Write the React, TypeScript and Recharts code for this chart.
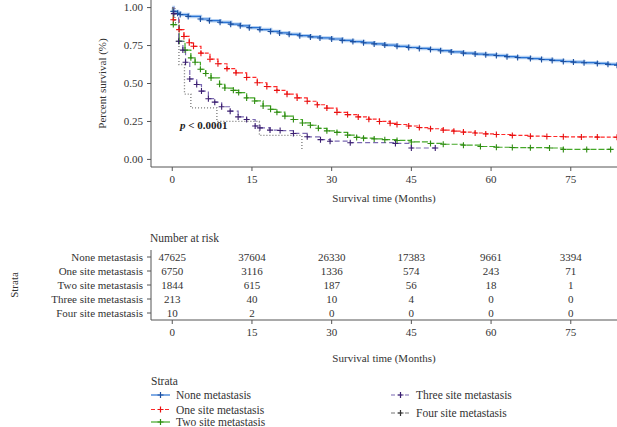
import { Line, LineChart, ReferenceDot, Scatter, ScatterChart, XAxis, YAxis } from 'recharts';

const FONT = '"Liberation Serif", "Times New Roman", serif';
const TEXT = '#333';
const AXIS = '#555';

const TIME_TICKS = [0, 15, 30, 45, 60, 75];
const SURV_TICKS = [0, 0.25, 0.5, 0.75, 1];

// Kaplan-Meier curves, [months, survival]
const noneCurve: [number, number][] = [
  [0, 1.0], [0.2, 0.975], [1, 0.962], [1.5, 0.954], [3, 0.942], [5.3, 0.925], [7, 0.914],
  [9, 0.903], [11, 0.891], [12.8, 0.88], [14.5, 0.868], [16.5, 0.855], [18.5, 0.843],
  [20.2, 0.833], [22, 0.824], [24, 0.815], [26, 0.807], [27.8, 0.8], [30, 0.793], [32, 0.784],
  [34, 0.776], [36, 0.768], [38, 0.761], [40, 0.753], [42.3, 0.745], [44.5, 0.737],
  [46.5, 0.731], [48.6, 0.724], [50.5, 0.716], [52.5, 0.708], [54.8, 0.7], [57, 0.694],
  [59, 0.689], [61, 0.684], [63, 0.677], [65, 0.671], [67.4, 0.664], [69.5, 0.658],
  [71.5, 0.652], [73.6, 0.645], [75.5, 0.641], [77.5, 0.637], [80, 0.632], [82, 0.626], [83.7, 0.62],
];

const oneCurve: [number, number][] = [
  [0, 1.0], [0.2, 0.92], [1.3, 0.855], [2.2, 0.81], [3.2, 0.768], [4, 0.745], [5.4, 0.7],
  [7.1, 0.66], [8.6, 0.63], [10.3, 0.598], [12, 0.57], [14, 0.54], [16, 0.505], [17.8, 0.48],
  [19.7, 0.455], [21.6, 0.43], [23.5, 0.405], [25.4, 0.383], [27.3, 0.36], [29.1, 0.338],
  [31, 0.31], [33, 0.295], [35, 0.28], [37, 0.265], [39, 0.25], [41, 0.238], [42.3, 0.23],
  [44.5, 0.22], [46.5, 0.21], [48.6, 0.202], [51, 0.193], [53, 0.186], [54.8, 0.18],
  [57, 0.174], [59, 0.168], [61, 0.164], [64, 0.158], [67.4, 0.153], [70.5, 0.151],
  [73.6, 0.149], [77, 0.148], [80, 0.147], [83.7, 0.146],
];

const twoCurve: [number, number][] = [
  [0, 1.0], [0.2, 0.888], [1.3, 0.778], [2.4, 0.72], [3.5, 0.669], [4.3, 0.64], [5.3, 0.594],
  [6.3, 0.566], [7.3, 0.537], [8.9, 0.495], [9.9, 0.47], [11.5, 0.455], [12.5, 0.44],
  [14, 0.405], [15.5, 0.385], [17.1, 0.352], [18.5, 0.33], [19.7, 0.311], [21.2, 0.285],
  [22.8, 0.263], [24.5, 0.24], [26, 0.225], [27.5, 0.205], [29.1, 0.188], [31, 0.178],
  [33, 0.16], [34.7, 0.145], [36, 0.14], [38, 0.135], [40, 0.13], [42.3, 0.125], [45, 0.115],
  [48.6, 0.105], [51, 0.1], [54.8, 0.094], [58, 0.085], [61, 0.08], [64, 0.078], [67.4, 0.077],
  [71, 0.075], [73.6, 0.066], [78, 0.066], [82.5, 0.066],
];

const threeCurve: [number, number][] = [
  [0, 1.0], [0.3, 0.96], [1.2, 0.778], [2, 0.72], [2.5, 0.64], [3.3, 0.53], [4.6, 0.493],
  [5.5, 0.45], [6.8, 0.4], [8, 0.377], [9.3, 0.347], [10.9, 0.318], [12.4, 0.28], [14, 0.263],
  [15.6, 0.22], [16.5, 0.208], [18.4, 0.193], [20.3, 0.19], [22.8, 0.171], [25.4, 0.149],
  [27.9, 0.13], [29.7, 0.12], [33.5, 0.11], [42, 0.105], [45, 0.075], [49.5, 0.075],
];

const fourCurve: [number, number][] = [
  [0, 1.0], [0.5, 0.9], [1.26, 0.625], [2.3, 0.43], [3.5, 0.34], [8.4, 0.25], [16.4, 0.158], [24.4, 0.055],
];

// number at risk table
const STRATA = [
  'None metastasis',
  'One site metastasis',
  'Two site metastasis',
  'Three site metastasis',
  'Four site metastasis',
];
const RISK_TIMES = [0, 15, 30, 45, 60, 75];
const riskNone = [47625, 37604, 26330, 17383, 9661, 3394];
const riskOne = [6750, 3116, 1336, 574, 243, 71];
const riskTwo = [1844, 615, 187, 56, 18, 1];
const riskThree = [213, 40, 10, 4, 0, 0];
const riskFour = [10, 2, 0, 0, 0, 0];

const toRows = (curve: [number, number][]) => curve.map(([t, s]) => ({ t, s }));

const riskRows = [riskNone, riskOne, riskTwo, riskThree, riskFour].flatMap((row, i) =>
  row.map((n, j) => ({ t: RISK_TIMES[j], row: i, n })),
);

const SERIES = [
  { name: STRATA[0], curve: noneCurve, color: '#2a74d4', mark: '#1d4f9e', dash: undefined, legendDash: undefined },
  { name: STRATA[1], curve: oneCurve, color: '#ff2a2a', mark: '#e81010', dash: '4 2', legendDash: '4 3' },
  { name: STRATA[2], curve: twoCurve, color: '#44a828', mark: '#2f8c12', dash: '6 2', legendDash: undefined },
  { name: STRATA[3], curve: threeCurve, color: '#7b69b2', mark: '#3b1f70', dash: '5 3', legendDash: '4 3' },
  { name: STRATA[4], curve: fourCurve, color: '#777', mark: '#333', dash: '1 2', legendDash: '4 3' },
];

const crossDot = (color: string) => (props: any) => {
  const { cx, cy, index } = props;
  if (index === 0 || cx == null || cy == null) return <g key={`d${index}`} />;
  return (
    <path
      key={`d${index}`}
      d={`M${cx - 3},${cy}h6M${cx},${cy - 3}v6`}
      stroke={color}
      strokeWidth={1.1}
      fill="none"
    />
  );
};

const tickStyle = { fontSize: 11, fill: TEXT, fontFamily: FONT };

function SurvivalPlot() {
  return (
    <LineChart width={617} height={210} margin={{ top: 0, right: 0, bottom: 0, left: 0 }}>
      <XAxis
        type="number"
        dataKey="t"
        domain={[-4, 83.7]}
        ticks={TIME_TICKS}
        allowDataOverflow
        height={43}
        tick={tickStyle}
        tickSize={4}
        tickMargin={4}
        stroke={AXIS}
        label={{ value: 'Survival time (Months)', position: 'insideBottom', offset: 8, style: tickStyle }}
      />
      <YAxis
        type="number"
        domain={[-0.05, 1.05]}
        ticks={SURV_TICKS}
        allowDataOverflow
        width={151}
        tick={tickStyle}
        tickSize={4}
        tickMargin={4}
        stroke={AXIS}
        tickFormatter={(v: number) => v.toFixed(2)}
        label={{
          content: ({ viewBox }: any) => {
            const x = viewBox.x + 106;
            const y = viewBox.y + viewBox.height / 2;
            return (
              <text x={x} y={y} transform={`rotate(-90 ${x} ${y})`} textAnchor="middle" style={tickStyle}>
                Percent survival (%)
              </text>
            );
          },
        }}
      />
      <Line
        data={toRows(noneCurve)}
        dataKey="s"
        type="stepAfter"
        stroke="#b2cff2"
        strokeWidth={3.5}
        dot={false}
        activeDot={false}
        isAnimationActive={false}
      />
      {SERIES.map((s, i) => (
        <Line
          key={s.name}
          data={toRows(s.curve)}
          dataKey="s"
          name={s.name}
          type="stepAfter"
          stroke={s.color}
          strokeWidth={i === 4 ? 1.3 : 1.2}
          strokeDasharray={s.dash}
          dot={i === 4 ? false : crossDot(s.mark)}
          activeDot={false}
          isAnimationActive={false}
        />
      ))}
      <ReferenceDot
        x={1.45}
        y={0.2}
        r={0}
        fill="none"
        stroke="none"
        label={{
          content: ({ viewBox }: any) => (
            <text x={viewBox.x} y={viewBox.y} fontSize={11} fontFamily={FONT} fontWeight="bold" fill="#222">
              <tspan fontStyle="italic">p</tspan> {'< 0.0001'}
            </text>
          ),
        }}
      />
    </LineChart>
  );
}

function RiskTable() {
  return (
    <ScatterChart width={617} height={140} margin={{ top: 22, right: 0, bottom: 0, left: 0 }}>
      <XAxis
        type="number"
        dataKey="t"
        domain={[-4, 83.7]}
        ticks={TIME_TICKS}
        allowDataOverflow
        height={48}
        tick={tickStyle}
        tickSize={4}
        tickMargin={4}
        stroke={AXIS}
        label={{ value: 'Survival time (Months)', position: 'insideBottom', offset: 6, style: tickStyle }}
      />
      <YAxis
        type="number"
        dataKey="row"
        domain={[-0.5, 4.5]}
        ticks={[0, 1, 2, 3, 4]}
        interval={0}
        reversed
        width={151}
        tick={tickStyle}
        tickSize={4}
        tickMargin={4}
        stroke={AXIS}
        tickFormatter={(v: number) => STRATA[v]}
        label={{
          content: ({ viewBox }: any) => {
            const x = viewBox.x + 18;
            const y = viewBox.y + viewBox.height / 2;
            return (
              <text x={x} y={y} transform={`rotate(-90 ${x} ${y})`} textAnchor="middle" style={tickStyle}>
                Strata
              </text>
            );
          },
        }}
      />
      <Scatter
        data={riskRows}
        isAnimationActive={false}
        shape={(p: any) => (
          <text x={p.cx} y={p.cy} dy="0.35em" textAnchor="middle" style={tickStyle}>
            {p.payload.n}
          </text>
        )}
      />
    </ScatterChart>
  );
}

function LegendBox() {
  const item = (s: (typeof SERIES)[number], x: number, y: number) => (
    <g key={s.name}>
      <line x1={x} x2={x + 19} y1={y} y2={y} stroke={s.color} strokeWidth={1.2} strokeDasharray={s.legendDash} />
      <path d={`M${x + 6.5},${y}h6M${x + 9.5},${y - 3}v6`} stroke={s.mark} strokeWidth={1.2} />
      <text x={x + 25} y={y} dy="0.35em" style={{ ...tickStyle, fontSize: 11.5 }}>
        {s.name}
      </text>
    </g>
  );
  return (
    <svg width={617} height={57} style={{ position: 'absolute', left: 0, top: 370, overflow: 'visible' }}>
      <text x={151} y={11} dy="0.35em" style={{ ...tickStyle, fontSize: 11.5 }}>
        Strata
      </text>
      {item(SERIES[0], 151, 25)}
      {item(SERIES[1], 151, 39.5)}
      {item(SERIES[2], 151, 52)}
      {item(SERIES[3], 391, 25)}
      {item(SERIES[4], 391, 43)}
    </svg>
  );
}

export default function App() {
  return (
    <div style={{ position: 'absolute', left: 0, top: 0, width: 617, height: 427, background: '#fff', overflow: 'hidden', fontFamily: FONT }}>
      <div style={{ position: 'absolute', left: 0, top: 0 }}>
        <SurvivalPlot />
      </div>
      <div style={{ position: 'absolute', left: 150, top: 233, fontSize: 11.5, color: TEXT, lineHeight: 1 }}>
        Number at risk
      </div>
      <div style={{ position: 'absolute', left: 0, top: 228 }}>
        <RiskTable />
      </div>
      <LegendBox />
    </div>
  );
}
